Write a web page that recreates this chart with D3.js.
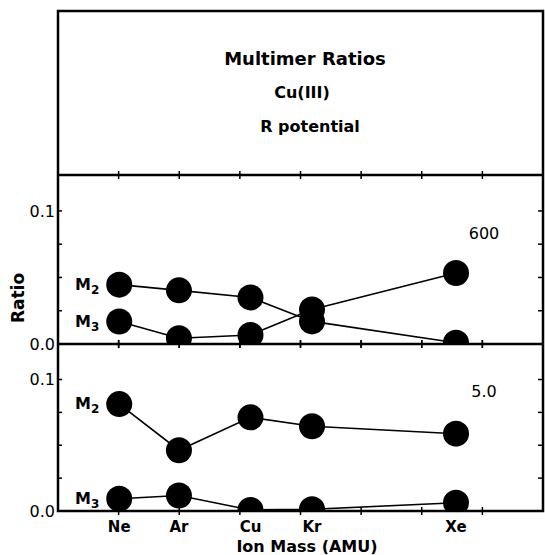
<!DOCTYPE html>
<html>
<head>
<meta charset="utf-8">
<script src="https://cdn.jsdelivr.net/npm/d3@7"></script>
<style>
  html, body { margin: 0; padding: 0; background: #fff; }
  svg { display: block; }
  text { font-family: "DejaVu Sans", "Liberation Sans", sans-serif; fill: #000; }
</style>
</head>
<body>
<svg id="chart" width="545" height="555"></svg>
<script>
// ---- data ----
const ions = ["Ne", "Ar", "Cu", "Kr", "Xe"];
const ionMass = [20.2, 39.9, 63.5, 83.8, 131.3];
const upperM2 = [0.0446, 0.0403, 0.0350, 0.0170, 0.0010];
const upperM3 = [0.0169, 0.0043, 0.0068, 0.0260, 0.0534];
const lowerM2 = [0.0813, 0.0462, 0.0712, 0.0645, 0.0588];
const lowerM3 = [0.0093, 0.0118, 0.0008, 0.0013, 0.0063];
const panelLabels = ["600", "5.0"];
const titleLines = ["Multimer Ratios", "Cu(III)", "R potential"];
const xTickValues = [20, 40, 60, 80, 100, 120, 140];
const yTickValues = [0, 0.025, 0.05, 0.075, 0.1];
const yLabelValues = [0, 0.1];

// ---- layout ----
const left = 58, right = 543;
const boxTop = 11, titleBottom = 175, midLine = 344, bottomLine = 511;

const svg = d3.select("#chart");
const x = d3.scaleLinear().domain([0, 160]).range([left, right]);

const panels = [
  { top: titleBottom, bottom: midLine, m2: upperM2, m3: upperM3, label: panelLabels[0], labelDy: 28 },
  { top: midLine, bottom: bottomLine, m2: lowerM2, m3: lowerM3, label: panelLabels[1], labelDy: 17 }
];

// title
const titleY = [65, 98, 132];
const titleX = [305, 302, 310];
const titleSizes = [18, 16, 16];
titleLines.forEach((t, i) => {
  svg.append("text").attr("x", titleX[i]).attr("y", titleY[i])
    .attr("text-anchor", "middle").style("font-size", titleSizes[i] + "px").style("font-weight", "bold").text(t);
});

panels.forEach((p, pi) => {
  const y = d3.scaleLinear().domain([0, 0.127]).range([p.bottom, p.top]);
  const g = svg.append("g");
  const clipId = "clip" + pi;
  svg.append("clipPath").attr("id", clipId).append("rect")
    .attr("x", left).attr("y", p.top).attr("width", right - left).attr("height", p.bottom - p.top);

  const line = d3.line().x((d, i) => x(ionMass[i])).y(d => y(d));
  const data = g.append("g").attr("clip-path", `url(#${clipId})`);
  [p.m2, p.m3].forEach(s => {
    data.append("path").datum(s).attr("d", line)
      .attr("fill", "none").attr("stroke", "#000").attr("stroke-width", 1.6);
  });
  [p.m2, p.m3].forEach(s => {
    data.selectAll(null).data(s).enter().append("circle")
      .attr("cx", (d, i) => x(ionMass[i])).attr("cy", d => y(d)).attr("r", 13).attr("fill", "#000");
  });

  // y ticks left (inward) and right (inward)
  g.selectAll(null).data(yTickValues).enter().append("line")
    .attr("x1", left).attr("x2", left + 4).attr("y1", d => y(d)).attr("y2", d => y(d))
    .attr("stroke", "#000").attr("stroke-width", 1.5);
  g.selectAll(null).data(yTickValues).enter().append("line")
    .attr("x1", right).attr("x2", right - 5).attr("y1", d => y(d)).attr("y2", d => y(d))
    .attr("stroke", "#000").attr("stroke-width", 1.5);
  g.selectAll(null).data(yLabelValues).enter().append("text")
    .attr("x", left - 3).attr("y", d => y(d)).attr("dy", "0.36em")
    .attr("text-anchor", "end").style("font-size", "16px").style("font-weight", "normal")
    .text(d => d3.format(".1f")(d));

  // series labels
  [["2", p.m2[0]], ["3", p.m3[0]]].forEach(([sub, v]) => {
    const t = g.append("text").attr("x", 75).attr("y", y(v) + 5).style("font-size", "16px").style("font-weight", "bold");
    t.append("tspan").text("M");
    t.append("tspan").style("font-size", "12px").attr("dy", 4).text(sub);
  });

  g.append("text").attr("x", 484).attr("y", y(0.1) + p.labelDy)
    .attr("text-anchor", "middle").style("font-size", "16px").style("font-weight", "normal").text(p.label);

  // x ticks on top & bottom edges of panel
  [p.top, p.bottom].forEach(yy => {
    g.selectAll(null).data(xTickValues).enter().append("line")
      .attr("x1", d => x(d)).attr("x2", d => x(d)).attr("y1", yy - 4).attr("y2", yy + 4)
      .attr("stroke", "#000").attr("stroke-width", 1.5);
  });
});

// frame
const frame = svg.append("g").attr("fill", "none").attr("stroke", "#000");
frame.append("rect").attr("x", left).attr("y", boxTop).attr("width", right - left).attr("height", bottomLine - boxTop)
  .attr("stroke-width", 2.5);
[titleBottom, midLine].forEach(yy => {
  frame.append("line").attr("x1", left).attr("x2", right).attr("y1", yy).attr("y2", yy).attr("stroke-width", 2.5);
});

// x labels
svg.selectAll(null).data(ions).enter().append("text")
  .attr("x", (d, i) => x(ionMass[i])).attr("y", 532)
  .attr("text-anchor", "middle").style("font-size", "15px").style("font-weight", "bold").text(d => d);
svg.append("text").attr("x", 307).attr("y", 552).attr("text-anchor", "middle")
  .style("font-size", "16px").style("font-weight", "bold").text("Ion Mass (AMU)");

// y axis title
svg.append("text").attr("transform", "translate(24,298) rotate(-90)")
  .attr("text-anchor", "middle").style("font-size", "17px").style("font-weight", "bold").text("Ratio");
</script>
</body>
</html>
